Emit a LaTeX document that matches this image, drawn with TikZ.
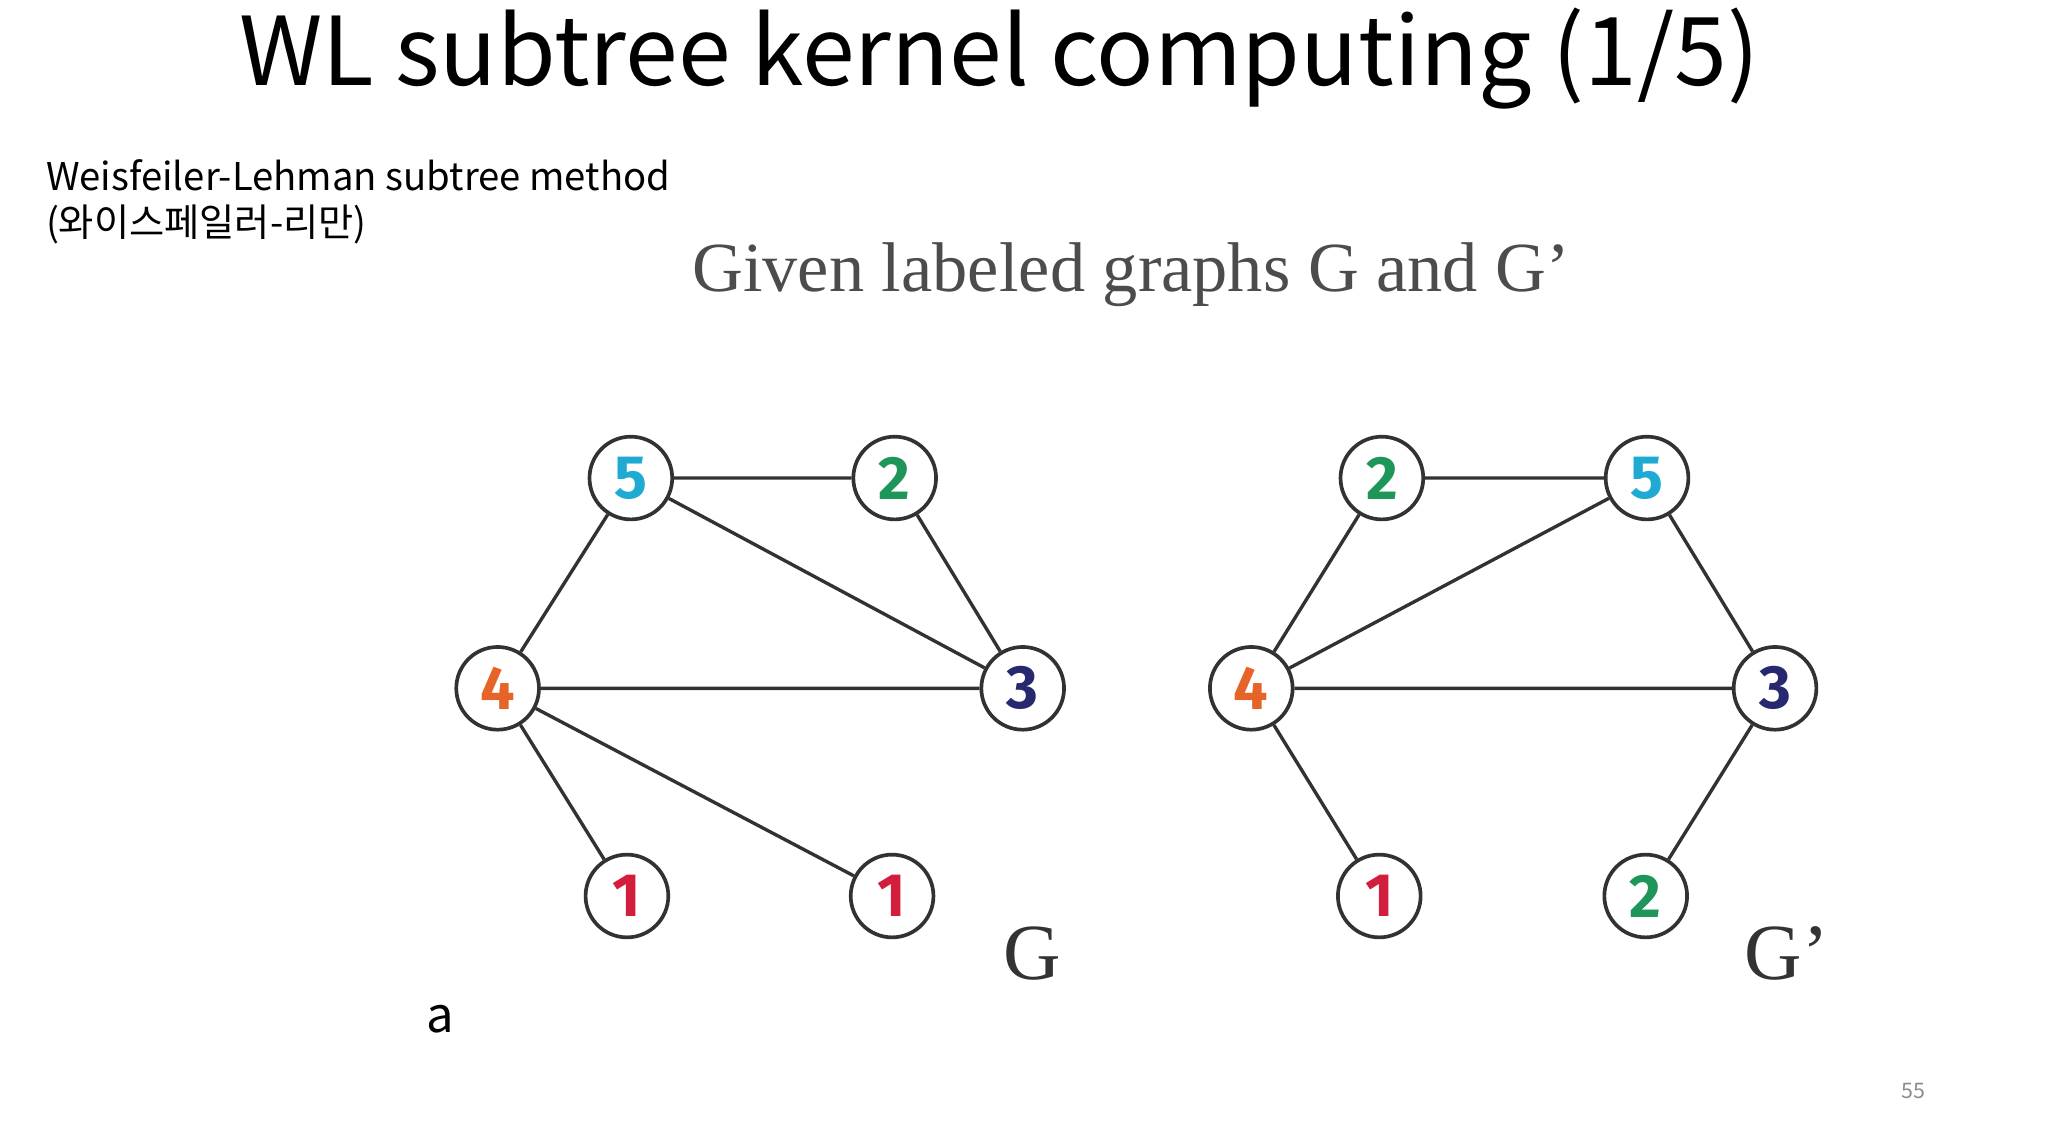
\documentclass[tikz,border=0pt]{standalone}
\usepackage{fontspec}
\setmainfont{Noto Sans CJK KR}
\newfontfamily\serifG{Liberation Serif}
\newfontfamily\digitf{Fira Sans}
\definecolor{cfive}{RGB}{30,170,210}
\definecolor{ctwo}{RGB}{30,150,90}
\definecolor{cfour}{RGB}{230,100,40}
\definecolor{cthree}{RGB}{40,40,110}
\definecolor{cone}{RGB}{210,30,60}
\definecolor{edgec}{RGB}{50,50,50}
\begin{document}
\begin{tikzpicture}[x=0.03cm,y=-0.03cm,
  vtx/.style={circle,draw=edgec,line width=2.4pt,fill=white,minimum size=1.9cm,inner sep=0pt,font=\digitf\bfseries\fontsize{40}{40}\selectfont},
  edge/.style={draw=edgec,line width=2.2pt},
  subt/.style={anchor=base west,inner sep=0pt,font=\fontsize{25}{30}\selectfont}]
\useasboundingbox (0,0) rectangle (1568,877);
\fill[white] (0,0) rectangle (1568,877);
\node (title) at (765,45) {\fontsize{62}{70}\selectfont WL subtree kernel computing (1/5)};
\node[subt] (sub1) at (35,146) {Weisfeiler-Lehman subtree method};
\node[subt] (sub2) at (35,181) {(와이스페일러-리만)};
\node[text=black!70] (given) at (866,210) {\serifG\fontsize{46}{48}\selectfont Given labeled graphs G and G’};
% G
\node[vtx,text=cfive] (g5) at (483,366) {5};
\node[vtx,text=ctwo] (g2) at (685,366) {2};
\node[vtx,text=cfour] (g4) at (381,527) {4};
\node[vtx,text=cthree] (g3) at (783,527) {3};
\node[vtx,text=cone] (g1a) at (480,686) {1};
\node[vtx,text=cone] (g1b) at (683,686) {1};
\draw[edge] (g5)--(g2) (g5)--(g4) (g5)--(g3) (g2)--(g3) (g4)--(g3) (g4)--(g1a) (g4)--(g1b);
% G'
\node[vtx,text=ctwo] (h2) at (1058,366) {2};
\node[vtx,text=cfive] (h5) at (1261,366) {5};
\node[vtx,text=cfour] (h4) at (958,527) {4};
\node[vtx,text=cthree] (h3) at (1359,527) {3};
\node[vtx,text=cone] (h1) at (1056,686) {1};
\node[vtx,text=ctwo] (h2b) at (1260,686) {2};
\draw[edge] (h2)--(h5) (h2)--(h4) (h5)--(h4) (h5)--(h3) (h4)--(h3) (h4)--(h1) (h3)--(h2b);
\node[text=black!80] (lg) at (790,730) {\serifG\fontsize{52}{52}\selectfont G};
\node[text=black!80] (lgp) at (1368,730) {\serifG\fontsize{52}{52}\selectfont G’};
\node (la) at (337,780) {\fontsize{32}{32}\selectfont a};
\node[text=black!45] (pg) at (1465,835) {\fontsize{14}{14}\selectfont 55};
\end{tikzpicture}
\end{document}
